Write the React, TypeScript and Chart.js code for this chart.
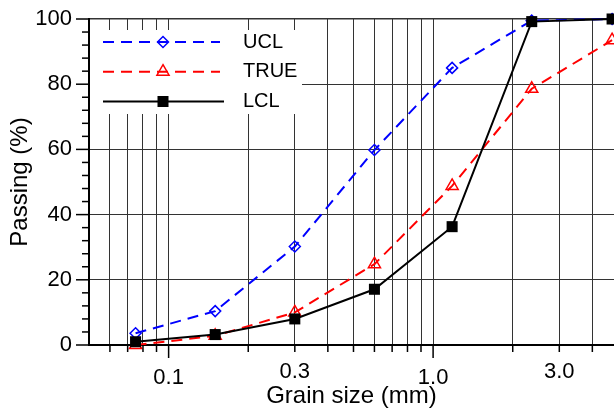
import React, { useEffect, useRef } from 'react';
import { Chart, registerables } from 'chart.js';

Chart.register(...registerables);

// ---- data ----
const sieveSizes = [0.075, 0.15, 0.3, 0.6, 1.18, 2.36, 4.75];
const uclValues = [3.6, 10.4, 30.2, 59.8, 85.0, 99.5, 100];
const trueValues = [0, 2.8, 10.0, 24.8, 48.8, 78.6, 93.5];
const lclValues = [1.0, 3.2, 8.0, 17.1, 36.3, 99.2, 100];
const seriesNames = ['UCL', 'TRUE', 'LCL'];

// ---- axis ticks ----
const xGridValues = [0.06, 0.07, 0.08, 0.09, 0.1, 0.2, 0.3, 0.4, 0.5, 0.6, 0.7, 0.8, 0.9, 1, 2, 3, 4];
const xMajorValues = [0.1, 1];
const xLabelValues = [0.1, 0.3, 1, 3];
const xLabelTexts = ['0.1', '0.3', '1.0', '3.0'];
const xMin = 0.05;
const xMax = 4.83;
const yMin = 0;
const yMax = 100;
const yStep = 20;
const yMinorStep = 4;

const FONT = '"Liberation Sans", Arial, Helvetica, sans-serif';
const near = (a: number, b: number) => Math.abs(a - b) < 1e-9 * Math.max(1, Math.abs(b));

const BLUE = '#0000ff';
const RED = '#ff0000';
const BLACK = '#000000';

function drawMarker(ctx: CanvasRenderingContext2D, kind: string, x: number, y: number) {
  ctx.save();
  ctx.setLineDash([]);
  if (kind === 'diamond') {
    const r = 5.5;
    ctx.strokeStyle = BLUE;
    ctx.lineWidth = 1.5;
    ctx.beginPath();
    ctx.moveTo(x - r, y);
    ctx.lineTo(x, y - r);
    ctx.lineTo(x + r, y);
    ctx.lineTo(x, y + r);
    ctx.closePath();
    ctx.stroke();
  } else if (kind === 'triangle') {
    const r = 7;
    ctx.strokeStyle = RED;
    ctx.lineWidth = 1.5;
    ctx.beginPath();
    ctx.moveTo(x, y - r);
    ctx.lineTo(x + 0.866 * r, y + 0.5 * r);
    ctx.lineTo(x - 0.866 * r, y + 0.5 * r);
    ctx.closePath();
    ctx.stroke();
  } else {
    const s = 5.5;
    ctx.fillStyle = BLACK;
    ctx.fillRect(x - s, y - s, 2 * s, 2 * s);
  }
  ctx.restore();
}

const axisTicksPlugin = {
  id: 'axisTicks',
  afterDraw(chart: any) {
    const { ctx, scales, chartArea } = chart;
    const xs = scales.x;
    const ys = scales.y;
    ctx.save();
    ctx.strokeStyle = '#000';
    ctx.lineWidth = 1.5;
    ctx.setLineDash([]);
    for (let v = yMin; v <= yMax + 1e-9; v += yMinorStep) {
      const py = ys.getPixelForValue(v);
      const len = v % yStep === 0 ? 13 : 7;
      ctx.beginPath();
      ctx.moveTo(chartArea.left, py);
      ctx.lineTo(chartArea.left - len, py);
      ctx.stroke();
    }
    for (const v of xGridValues) {
      const px = xs.getPixelForValue(v);
      const major = xMajorValues.some((m) => near(m, v));
      const len = major ? 13 : 7;
      ctx.beginPath();
      ctx.moveTo(px, chartArea.bottom);
      ctx.lineTo(px, chartArea.bottom + len);
      ctx.stroke();
    }
    ctx.restore();
  },
};

const legendRows = [
  { name: seriesNames[0], color: BLUE, dash: [11, 7], marker: 'diamond', y: 42 },
  { name: seriesNames[1], color: RED, dash: [11, 7], marker: 'triangle', y: 71.7 },
  { name: seriesNames[2], color: BLACK, dash: [], marker: 'square', y: 101.5 },
];

const legendPlugin = {
  id: 'customLegend',
  beforeDatasetsDraw(chart: any) {
    const { ctx } = chart;
    ctx.save();
    ctx.fillStyle = '#ffffff';
    ctx.fillRect(90, 30, 212, 84);
    ctx.restore();
  },
  afterDatasetsDraw(chart: any) {
    const { ctx } = chart;
    ctx.save();
    for (const row of legendRows) {
      ctx.strokeStyle = row.color;
      ctx.lineWidth = 2;
      ctx.setLineDash(row.dash);
      ctx.beginPath();
      ctx.moveTo(103, row.y);
      ctx.lineTo(row.dash.length ? 220 : 224, row.y);
      ctx.stroke();
      drawMarker(ctx, row.marker, 163, row.y);
      ctx.fillStyle = '#000';
      ctx.font = `20px ${FONT}`;
      ctx.textAlign = 'left';
      ctx.textBaseline = 'middle';
      ctx.fillText(row.name, 243, row.y);
    }
    ctx.restore();
  },
};

const toPoints = (vals: number[]) => sieveSizes.map((x, i) => ({ x, y: vals[i] }));

export default function App() {
  const canvasRef = useRef<HTMLCanvasElement | null>(null);

  useEffect(() => {
    if (!canvasRef.current) return;
    const chart = new Chart(canvasRef.current, {
      type: 'line',
      data: {
        datasets: [
          {
            label: seriesNames[0],
            data: toPoints(uclValues),
            borderColor: BLUE,
            borderWidth: 2,
            borderDash: [11, 7],
            pointStyle: 'rectRot',
            pointRadius: 5.5,
            pointBorderWidth: 1.5,
            pointBorderColor: BLUE,
            pointBackgroundColor: 'rgba(0,0,0,0)',
            tension: 0,
            fill: false,
            clip: false as any,
            order: 3,
          },
          {
            label: seriesNames[1],
            data: toPoints(trueValues),
            borderColor: RED,
            borderWidth: 2,
            borderDash: [11, 7],
            pointStyle: 'triangle',
            pointRadius: 7,
            pointBorderWidth: 1.5,
            pointBorderColor: RED,
            pointBackgroundColor: 'rgba(0,0,0,0)',
            tension: 0,
            fill: false,
            clip: false as any,
            order: 2,
          },
          {
            label: seriesNames[2],
            data: toPoints(lclValues),
            borderColor: BLACK,
            borderWidth: 2,
            pointStyle: 'rect',
            pointRadius: 7.8,
            pointBorderWidth: 0,
            pointBackgroundColor: BLACK,
            pointBorderColor: BLACK,
            tension: 0,
            fill: false,
            clip: false as any,
            order: 1,
          },
        ],
      },
      options: {
        animation: false,
        responsive: false,
        maintainAspectRatio: false,
        events: [],
        layout: { autoPadding: false, padding: { top: 19, left: 0, right: 0, bottom: 0 } },
        plugins: {
          legend: { display: false },
          tooltip: { enabled: false },
        },
        scales: {
          x: {
            type: 'logarithmic',
            min: xMin,
            max: xMax,
            afterBuildTicks: (scale: any) => {
              scale.ticks = xGridValues.map((v) => ({ value: v }));
            },
            afterFit: (scale: any) => {
              scale.height = 67;
              scale.paddingLeft = 0;
              scale.paddingRight = 0;
              scale.paddingTop = 0;
              scale.paddingBottom = 0;
            },
            ticks: {
              autoSkip: false,
              maxRotation: 0,
              minRotation: 0,
              padding: 14,
              color: '#000',
              font: (ctx: any) => {
                const v = ctx.tick ? ctx.tick.value : 0;
                const major = xMajorValues.some((m) => near(m, v));
                return { family: FONT, size: 22, lineHeight: major ? 1.68 : 1.18 };
              },
              callback: (value: any) => {
                const idx = xLabelValues.findIndex((m) => near(m, Number(value)));
                return idx >= 0 ? xLabelTexts[idx] : '';
              },
            },
            grid: { color: '#333333', lineWidth: 1, drawTicks: false },
            border: { color: '#000', width: 2 },
            title: {
              display: true,
              text: 'Grain size (mm)',
              color: '#000',
              font: { family: FONT, size: 24 },
              padding: { top: 0, bottom: 1 },
            },
          },
          y: {
            type: 'linear',
            min: yMin,
            max: yMax,
            afterFit: (scale: any) => {
              scale.width = 89;
              scale.paddingLeft = 0;
              scale.paddingRight = 0;
              scale.paddingTop = 0;
              scale.paddingBottom = 0;
            },
            ticks: {
              stepSize: yStep,
              padding: 17,
              color: '#000',
              font: { family: FONT, size: 22 },
            },
            grid: {
              color: '#333333',
              lineWidth: (ctx: any) => (ctx.tick && ctx.tick.value === yMax ? 1.5 : 1),
              drawTicks: false,
            },
            border: { color: '#000', width: 2 },
            title: {
              display: true,
              text: 'Passing (%)',
              color: '#000',
              font: { family: FONT, size: 24 },
              padding: { top: 6, bottom: 0 },
            },
          },
        },
      } as any,
      plugins: [legendPlugin, axisTicksPlugin],
    });
    return () => chart.destroy();
  }, []);

  return (
    <div style={{ position: 'absolute', left: 0, top: 0, width: 614, height: 412, background: '#fff' }}>
      <canvas ref={canvasRef} width={614} height={412} style={{ display: 'block' }} />
    </div>
  );
}
